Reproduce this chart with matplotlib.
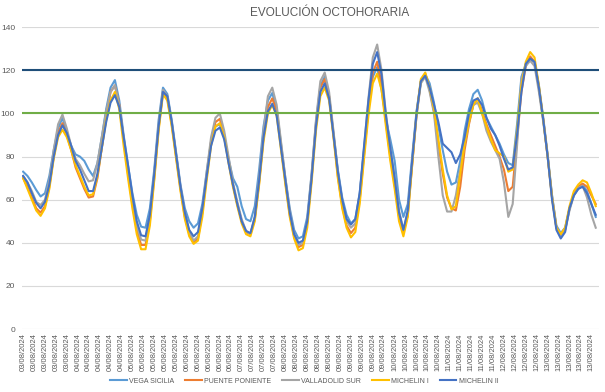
import numpy as np
import matplotlib
matplotlib.use('Agg')
import matplotlib.pyplot as plt

# ---- data: one value every 2 hours, from 03/08/2024 00:00 ----
vega_sicilia = [
    73, 71, 68, 64.5, 61.5, 63, 71, 83, 93, 98, 91, 85,
    81, 80, 78, 74, 71, 77, 89, 102, 112, 115.5, 106, 90,
    76, 63, 53, 47.5, 47, 56, 74, 97, 112, 109, 97, 82,
    67, 56, 50, 47, 49, 58, 73, 87, 94, 95, 89, 79,
    70, 66, 57, 51, 50, 57, 74, 94, 106, 109.5, 102, 86,
    70, 56, 46, 42, 43, 52, 72, 96, 113, 117, 108, 91,
    74, 61, 53, 49, 51, 63, 83, 102, 117, 121.5, 111, 97,
    88, 78, 60, 52, 58, 80, 101, 115, 118, 114, 105, 94,
    83, 73, 67, 68, 78, 92, 102, 109, 111, 106, 98, 94,
    90, 86, 81, 77, 76, 95, 117, 123, 125, 124, 113, 98,
    81, 62, 48, 44.5, 47, 56, 62, 65, 67, 64, 58, 52,
]
puente_poniente = [
    70, 66, 61, 56, 54, 57, 66, 80, 91, 95.5, 90, 83,
    75, 70, 65, 61, 61.5, 70, 84, 98, 110, 113, 104, 88,
    72, 58, 46, 39, 39, 50, 70, 93, 110, 107, 95, 80,
    65, 52, 44, 40, 42, 54, 71, 87, 96, 97.5, 90, 78,
    67, 58, 50, 45, 44, 51, 68, 89, 103, 107, 101, 85,
    68, 53, 43, 38, 39, 49, 70, 95, 112, 116, 108, 90,
    71, 57, 48, 44.5, 47, 60, 81, 102, 119, 124, 114, 96,
    80, 67, 52, 44.5, 53, 76, 99, 115, 118.5, 111, 101, 86,
    72, 61, 56, 55, 66, 83, 95, 104, 107, 101, 95, 90,
    85, 80, 74, 64, 66, 88, 110, 122, 126.5, 124, 112, 97,
    80, 61, 47, 43.5, 46, 56, 63, 66, 67.5, 66, 62, 58,
]
valladolid_sur = [
    71, 68, 64, 59, 57.5, 60, 69, 83, 95, 99.5, 93, 85,
    79, 76, 72, 68.5, 69, 77, 89, 101, 110, 113, 104, 88,
    74, 60, 48, 41.5, 41, 52, 72, 95, 111, 108, 96, 81,
    66, 54, 45, 41, 43, 55, 73, 89, 98, 100, 92, 80,
    68, 59, 51, 45.5, 44, 52, 70, 92, 108, 112, 104, 87,
    70, 55, 44, 39, 40, 50, 72, 97, 115, 119, 110, 92,
    73, 59, 50, 47, 49, 62, 84, 107, 126, 132, 120, 100,
    84, 70, 55, 46, 54, 77, 99, 114, 117, 110, 100, 80,
    62, 54.5, 54.5, 62, 74, 86, 96, 104, 105, 100, 92, 87,
    83, 79, 68, 52, 58, 85, 116, 122, 124.5, 122, 110, 96,
    80, 62, 47, 43.5, 46, 55, 62, 65.5, 66.5, 61, 53, 47,
]
michelin_1 = [
    70, 65, 60, 55, 52.5, 56, 65, 79, 89, 92.5, 89, 83,
    76, 71, 66, 62, 62.5, 71, 84, 97, 106, 110, 102, 85,
    70, 56, 44, 37, 37, 48, 69, 92, 109, 106, 94, 79,
    64, 51, 43, 39.5, 41, 52, 69, 85, 94, 95.5, 89, 77,
    66, 57, 49, 44, 43, 50, 67, 87, 100, 104, 99, 83,
    67, 52, 42, 36.5, 37.5, 47, 68, 92, 108, 112, 106, 89,
    70, 56, 47, 42.5, 45, 58, 79, 99, 114, 118.5, 111, 94,
    78, 65, 50, 43, 52, 76, 100, 116, 119, 112, 102, 88,
    74, 62, 55.5, 57, 72, 86, 96, 104, 107, 100, 94, 88,
    83, 81.5, 80, 73, 74, 92, 113, 124, 128.5, 126, 113, 97,
    80, 61, 47, 44, 47, 57, 64, 67, 69, 68, 63, 57,
]
michelin_2 = [
    71, 68, 63, 58.5, 56, 59, 67, 80, 90, 94.5, 91, 85,
    78, 74, 69, 64, 64, 72, 84, 96, 105, 108.5, 103, 89,
    76, 62, 50, 43.5, 43, 53, 72, 94, 110, 108, 96, 81,
    66, 54, 46, 43, 45, 56, 71, 85, 92, 93.5, 88, 77,
    67, 58, 50, 45.5, 44.5, 52, 69, 89, 101, 104.5, 99, 84,
    69, 54, 44, 40, 41, 50, 70, 94, 110, 114, 107, 90,
    73, 60, 51, 48.5, 51, 63, 85, 106, 123, 128.5, 118, 99,
    84, 70, 54, 46, 55, 78, 100, 115, 117.5, 112, 104, 96,
    86, 84, 82, 77, 81, 89, 100, 106, 107, 104, 98, 93,
    90, 85, 79, 74, 75, 90, 110, 123, 125.5, 124, 112, 97,
    80, 60, 46, 42, 45, 56, 62, 65, 66, 63, 58, 53,
]

series_names = ['VEGA SICILIA', 'PUENTE PONIENTE', 'VALLADOLID SUR',
                'MICHELIN I', 'MICHELIN II']
series_values = [vega_sicilia, puente_poniente, valladolid_sur,
                 michelin_1, michelin_2]
series_colors = ['#5B9BD5', '#ED7D31', '#A5A5A5', '#FFC000', '#4472C4']

limit_high = 120
limit_low = 100

n_hours = 264
label_step = 5
day_names = ['03/08/2024', '04/08/2024', '05/08/2024', '06/08/2024',
             '07/08/2024', '08/08/2024', '09/08/2024', '10/08/2024',
             '11/08/2024', '12/08/2024', '13/08/2024']

hours = np.arange(0, n_hours, 2)
tick_pos = np.arange(0, n_hours, label_step)
tick_labels = [day_names[h // 24] for h in tick_pos]

# ---- plot ----
plt.rcParams['font.family'] = ['Liberation Sans', 'DejaVu Sans']
text_col = '#595959'

fig = plt.figure(figsize=(6.05, 3.92), dpi=100)
ax = fig.add_axes([0.0364, 0.1607, 0.9537, 0.7697])

for name, vals, col in zip(series_names, series_values, series_colors):
    ax.plot(hours, vals, color=col, linewidth=1.5, label=name,
            solid_joinstyle='round')

ax.axhline(limit_high, color='#1F4E79', linewidth=1.5, zorder=5)
ax.axhline(limit_low, color='#70AD47', linewidth=1.5, zorder=5)

ax.set_xlim(-0.5, n_hours - 0.5)
ax.set_ylim(0, 140)
ax.set_yticks(np.arange(0, 141, 20))
ax.set_xticks(tick_pos)
ax.set_xticklabels(tick_labels, rotation=90, fontsize=5.5, color=text_col)
ax.tick_params(axis='y', labelsize=6, colors=text_col, length=0, pad=5)
ax.tick_params(axis='x', length=0, pad=3)
ax.grid(axis='y', color='#D9D9D9', linewidth=0.8)
ax.set_axisbelow(True)
for s in ax.spines.values():
    s.set_visible(False)

fig.text(0.545, 0.967, 'EVOLUCIÓN OCTOHORARIA', ha='center', va='center',
         fontsize=8.5, color=text_col)

fig.legend(loc='center', bbox_to_anchor=(0.503, 0.028), ncol=5,
           frameon=False, fontsize=5, handlelength=2.4, columnspacing=1.6,
           handletextpad=0.3, labelcolor=text_col)

fig.savefig('out.png', dpi=100)
